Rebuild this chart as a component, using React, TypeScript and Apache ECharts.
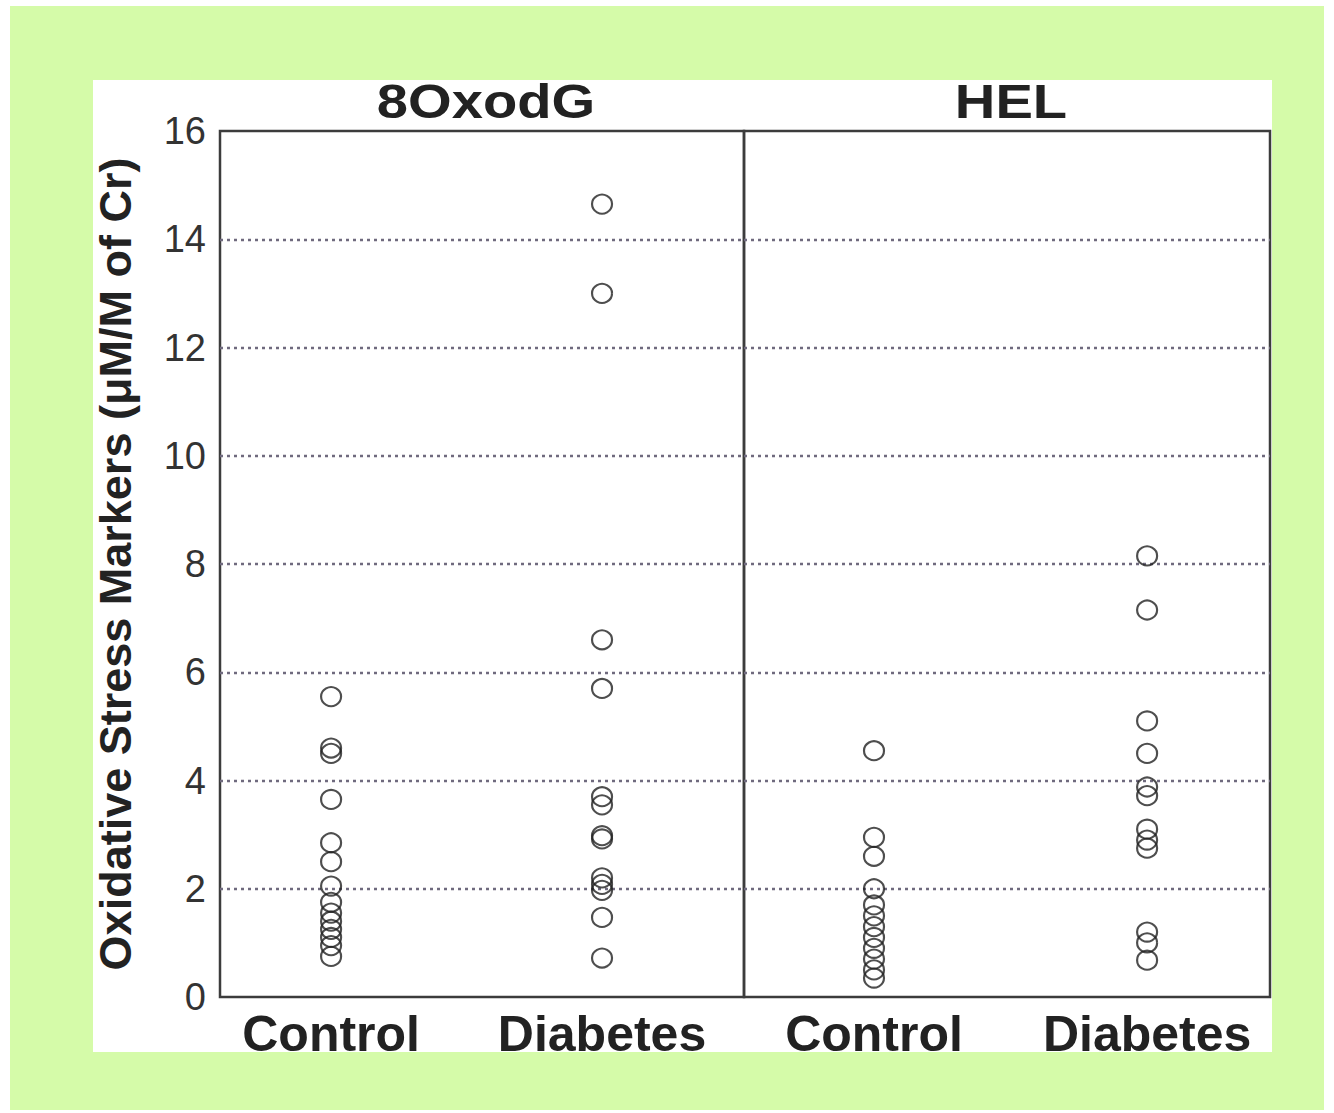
import React, { useEffect, useRef } from "react";
import * as echarts from "echarts";

// ---- data ----
const groups = ["Control", "Diabetes"];
const panelTitles = ["8OxodG", "HEL"];
const yAxisName = "Oxidative Stress Markers (\u03BCM/M of Cr)";
const yMin = 0;
const yMax = 16;
const yStep = 2;

const oxodgControl = [5.55, 4.6, 4.5, 3.65, 2.85, 2.5, 2.05, 1.75, 1.55, 1.4, 1.25, 1.1, 0.95, 0.75];
const oxodgDiabetes = [14.65, 13.0, 6.6, 5.7, 3.7, 3.55, 2.98, 2.92, 2.2, 2.08, 1.97, 1.47, 0.72];
const helControl = [4.55, 2.95, 2.6, 2.0, 1.7, 1.5, 1.3, 1.1, 0.9, 0.7, 0.5, 0.35];
const helDiabetes = [8.15, 7.15, 5.1, 4.5, 3.88, 3.72, 3.1, 2.9, 2.75, 1.2, 1.0, 0.68];

const FONT = "'Liberation Sans', Arial, Helvetica, sans-serif";

export default function App() {
  const ref = useRef<HTMLDivElement>(null);

  useEffect(() => {
    const chart = echarts.init(ref.current as HTMLDivElement, null, { renderer: "svg" });

    const panelData = [
      [oxodgControl, oxodgDiabetes],
      [helControl, helDiabetes],
    ];

    const gridDefs = [
      { left: 220, top: 131, width: 524, height: 866 },
      { left: 744, top: 131, width: 526, height: 866 },
    ];
    const xRanges = [
      [0.59, 2.524],
      [0.524, 2.45],
    ];

    const series: any[] = [];
    panelData.forEach((pair, pi) => {
      pair.forEach((vals, gi) => {
        series.push({
          type: "scatter",
          xAxisIndex: pi,
          yAxisIndex: pi,
          symbol: "circle",
          symbolSize: [20, 19],
          itemStyle: { color: "rgba(0,0,0,0)", borderColor: "#222", borderWidth: 2.1 },
          emphasis: { disabled: true },
          data: vals.map((v) => [gi + 1, v]),
        });
      });
    });

    const option: any = {
      animation: false,
      backgroundColor: "transparent",
      grid: gridDefs.map((g) => ({
        ...g,
        show: true,
        backgroundColor: "transparent",
        borderColor: "#3c3c3c",
        borderWidth: 2.5,
      })),
      xAxis: gridDefs.map((_, i) => ({
        type: "value",
        gridIndex: i,
        min: xRanges[i][0],
        max: xRanges[i][1],
        axisLine: { show: false },
        axisTick: { show: false },
        splitLine: { show: false },
        axisLabel: {
          customValues: [1, 2],
          formatter: (v: number) => groups[Math.round(v) - 1] ?? "",
          margin: 12,
          fontSize: 50,
          fontWeight: "bold",
          fontFamily: FONT,
          color: "#222",
        },
      })),
      yAxis: gridDefs.map((_, i) => ({
        type: "value",
        gridIndex: i,
        min: yMin,
        max: yMax,
        interval: yStep,
        name: i === 0 ? yAxisName : "",
        nameLocation: "middle",
        nameGap: 82,
        nameTextStyle: {
          fontSize: 45,
          fontWeight: "bold",
          fontFamily: FONT,
          color: "#222",
        },
        axisLine: { show: false },
        axisTick: { show: false },
        splitLine: {
          show: true,
          showMinLine: false,
          showMaxLine: false,
          lineStyle: { color: "#6f6a7e", width: 2.4, type: [3, 4] },
        },
        axisLabel: {
          show: i === 0,
          margin: 14,
          fontSize: 38,
          fontFamily: FONT,
          color: "#333",
        },
      })),
      graphic: panelTitles.map((t, i) => ({
        type: "text",
        x: i === 0 ? 486 : 1011,
        y: 101,
        scaleX: 1.17,
        style: {
          text: t,
          fontSize: 48,
          fontWeight: "bold",
          fontFamily: FONT,
          fill: "#222",
          align: "center",
          verticalAlign: "middle",
          textAlign: "center",
          textVerticalAlign: "middle",
        },
      })),
      series,
    };

    chart.setOption(option);
    return () => chart.dispose();
  }, []);

  return (
    <div style={{ position: "absolute", left: 0, top: 0, width: 1334, height: 1113, background: "#fff" }}>
      <div style={{ position: "absolute", left: 10, top: 6, width: 1314, height: 1104, background: "#d5fba9" }} />
      <div style={{ position: "absolute", left: 93, top: 80, width: 1179, height: 972, background: "#fff" }} />
      <div ref={ref} style={{ position: "absolute", left: 0, top: 0, width: 1334, height: 1113 }} />
    </div>
  );
}
